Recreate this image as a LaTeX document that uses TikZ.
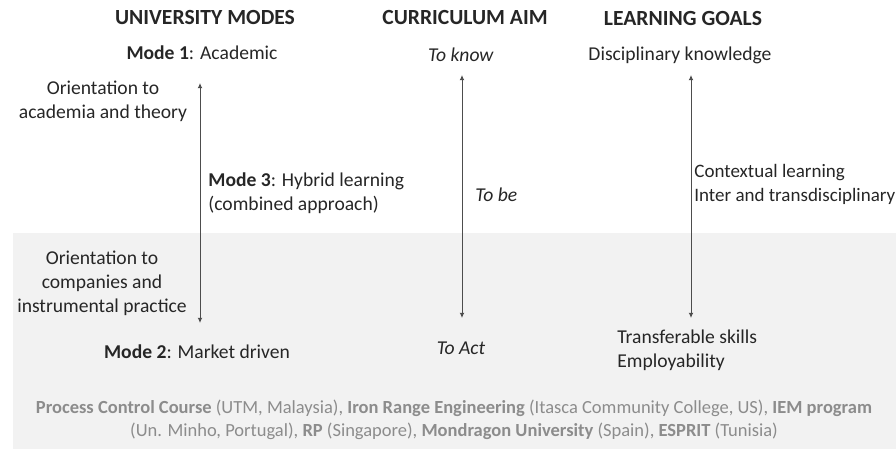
\documentclass[tikz,border=0pt]{standalone}
\usepackage{fontspec}
\setmainfont{Carlito}
\usepackage{tikz}
\usetikzlibrary{arrows.meta}

\definecolor{ink}{HTML}{262626}
\definecolor{band}{HTML}{F2F2F2}
\definecolor{note}{HTML}{8C8C8C}
\definecolor{axis}{HTML}{4D4D4D}

\begin{document}
\begin{tikzpicture}[x=0.5pt, y=-0.5pt, every node/.style={font=\fontsize{9.8}{12}\selectfont, text=ink, inner sep=0pt},
	head/.style={font=\fontsize{10.8}{13}\selectfont\bfseries},
	lines/.style={align=center},
	left lines/.style={align=left, anchor=west},
	foot/.style={font=\fontsize{9.25}{11.5}\selectfont, text=note, align=center},
	axis/.style={draw=axis, line width=0.5pt, {Latex[length=2.6pt,width=2.4pt]}-{Latex[length=2.6pt,width=2.4pt]}}]
	\useasboundingbox (0,0) rectangle (896,453);
	\fill[band] (13,233) rectangle (896,449);

	% column headings
	\node[head] (hmodes) at (205,18) {UNIVERSITY MODES};
	\node[head] (haim) at (465,18) {CURRICULUM AIM};
	\node[head] (hgoals) at (683,18) {LEARNING GOALS};

	% top row
	\node (mode1) at (202,53) {\textbf{Mode 1}: Academic};
	\node (know) at (461,55) {\textit{To know}};
	\node (disc) at (680,55) {Disciplinary knowledge};

	% middle row
	\node[lines] (acad) at (103,101) {Orientation to\\academia and theory};
	\node[left lines] (mode3) at (208,193) {\textbf{Mode 3}: Hybrid learning\\(combined approach)};
	\node[left lines] (be) at (475,195) {\textit{To be}};
	\node[left lines, font=\fontsize{9.5}{12}\selectfont] (ctx) at (694,184) {Contextual learning\\Inter and transdisciplinary};
	\node[lines] (comp) at (102,283) {Orientation to\\companies and\\instrumental practice};

	% bottom row
	\node (mode2) at (197,352) {\textbf{Mode 2}: Market driven};
	\node (act) at (461,348) {\textit{To Act}};
	\node[left lines] (skills) at (617,350) {Transferable skills\\Employability};

	% axes
	\coordinate (m top) at (200,83);
	\coordinate (m bot) at (200,323);
	\coordinate (a top) at (462,75);
	\coordinate (a bot) at (462,318);
	\coordinate (g top) at (691,75);
	\coordinate (g bot) at (691,318);
	\draw[axis] (m top) -- (m bot);
	\draw[axis] (a top) -- (a bot);
	\draw[axis] (g top) -- (g bot);

	% examples
	\node[foot] (cases) at (454,420) {\textbf{Process Control Course} (UTM, Malaysia), \textbf{Iron Range Engineering} (Itasca Community College, US), \textbf{IEM program}\\(Un. Minho, Portugal), \textbf{RP} (Singapore), \textbf{Mondragon University} (Spain), \textbf{ESPRIT} (Tunisia)};
\end{tikzpicture}
\end{document}
